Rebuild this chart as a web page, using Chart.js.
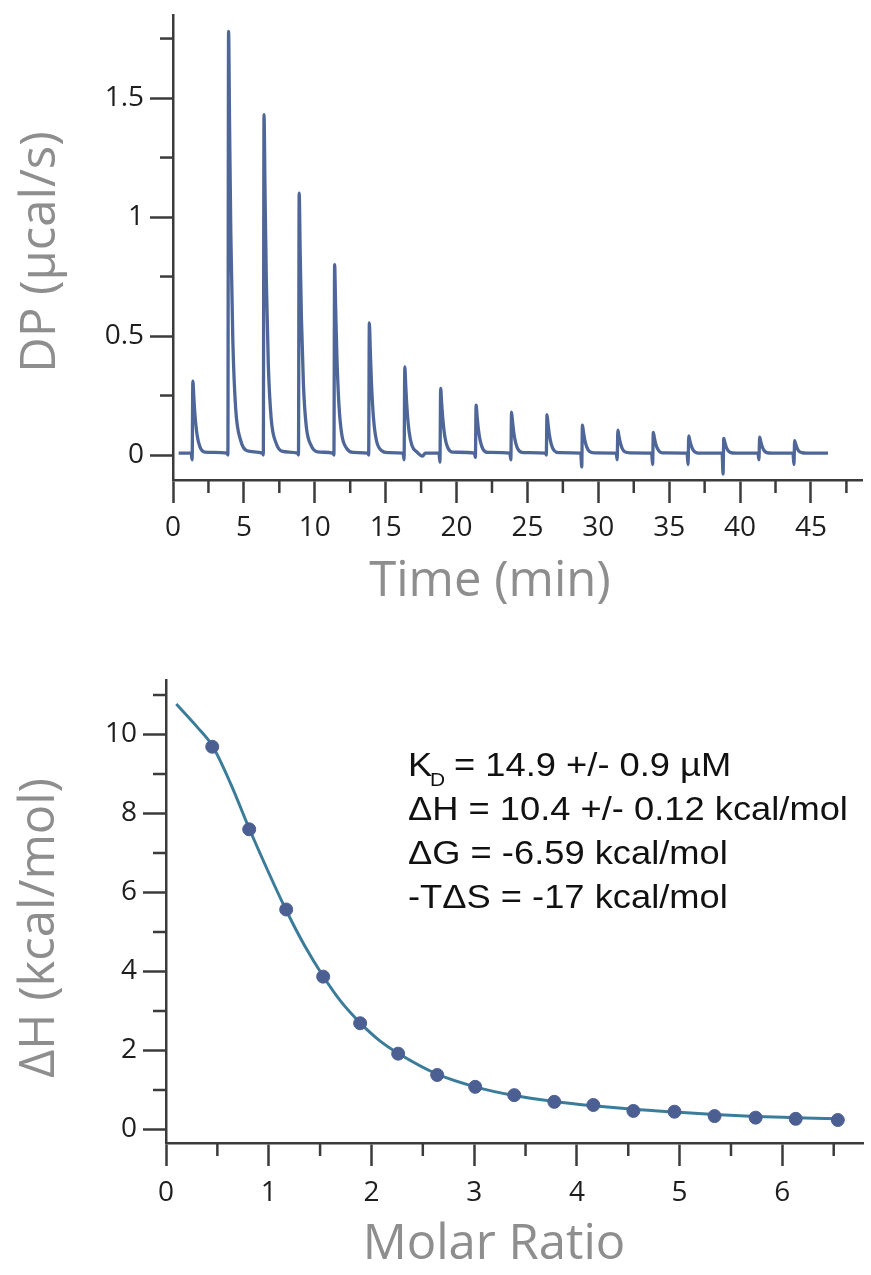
<!DOCTYPE html>
<html>
<head>
<meta charset="utf-8">
<script src="https://cdn.jsdelivr.net/npm/chart.js@4.4.1/dist/chart.umd.min.js"></script>
<style>
  html, body { margin: 0; padding: 0; background: #ffffff; }
  #wrap { position: relative; width: 871px; height: 1275px; overflow: hidden; }
  #c1 { position: absolute; left: 0; top: 0; }
  #c2 { position: absolute; left: 0; top: 625px; }
</style>
</head>
<body>
<div id="wrap">
  <canvas id="c1" width="871" height="625"></canvas>
  <canvas id="c2" width="871" height="650"></canvas>
</div>
<script>
// ---------------- DATA: top panel (raw thermogram) ----------------
const dpTime = [
  0.40, 1.28, 1.35, 1.40, 1.47, 1.56, 1.70, 1.90, 2.25,
  3.80, 3.87, 3.92, 3.99, 4.08, 4.22, 4.42, 4.77, 5.22,
  6.30, 6.37, 6.42, 6.49, 6.58, 6.72, 6.92, 7.27, 7.72,
  8.78, 8.85, 8.90, 8.97, 9.06, 9.20, 9.40, 9.75, 10.20,
  11.28, 11.35, 11.40, 11.47, 11.56, 11.70, 11.90, 12.25, 12.70,
  13.73, 13.80, 13.85, 13.92, 14.01, 14.15, 14.35, 14.70, 15.15,
  16.23, 16.30, 16.35, 16.42, 16.51, 16.65, 16.85, 17.20, 17.60, 17.80,
  18.76, 18.83, 18.88, 18.95, 19.04, 19.18, 19.38, 19.73,
  21.26, 21.33, 21.38, 21.45, 21.54, 21.68, 21.88, 22.23,
  23.76, 23.83, 23.88, 23.95, 24.04, 24.18, 24.38, 24.73,
  26.26, 26.33, 26.38, 26.45, 26.54, 26.68, 26.88, 27.23,
  28.76, 28.83, 28.88, 28.95, 29.04, 29.18, 29.38, 29.73,
  31.26, 31.33, 31.38, 31.45, 31.54, 31.68, 31.88, 32.23,
  33.76, 33.83, 33.88, 33.95, 34.04, 34.18, 34.38, 34.73,
  36.26, 36.33, 36.38, 36.45, 36.54, 36.68, 36.88, 37.23,
  38.73, 38.80, 38.85, 38.92, 39.01, 39.15, 39.35, 39.70,
  41.26, 41.33, 41.38, 41.45, 41.54, 41.68, 41.88, 42.23,
  43.73, 43.80, 43.85, 43.92, 44.01, 44.15, 44.35, 44.70,
  46.20
];
const dpPower = [
  0.008, 0.008, -0.020, 0.310, 0.242, 0.161, 0.084, 0.034, 0.012,
  0.008, 0.000, 1.780, 1.388, 0.926, 0.481, 0.196, 0.062, 0.018,
  0.008, 0.000, 1.430, 1.115, 0.744, 0.386, 0.157, 0.050, 0.015,
  0.008, 0.000, 1.100, 0.858, 0.572, 0.297, 0.121, 0.039, 0.013,
  0.008, 0.000, 0.800, 0.624, 0.416, 0.216, 0.088, 0.028, 0.011,
  0.008, 0.000, 0.555, 0.433, 0.289, 0.150, 0.061, 0.019, 0.010,
  0.008, -0.020, 0.370, 0.289, 0.192, 0.100, 0.041, 0.013, -0.005, 0.008,
  0.008, -0.030, 0.280, 0.218, 0.146, 0.076, 0.031, 0.012,
  0.008, -0.010, 0.210, 0.164, 0.109, 0.057, 0.023, 0.011,
  0.008, -0.020, 0.180, 0.140, 0.094, 0.049, 0.020, 0.010,
  0.008, 0.000, 0.170, 0.133, 0.088, 0.046, 0.019, 0.010,
  0.008, -0.050, 0.125, 0.098, 0.065, 0.034, 0.015, 0.009,
  0.008, -0.020, 0.105, 0.082, 0.055, 0.028, 0.013, 0.009,
  0.008, -0.040, 0.095, 0.074, 0.049, 0.026, 0.012, 0.009,
  0.008, -0.040, 0.080, 0.062, 0.042, 0.022, 0.011, 0.008,
  0.008, -0.080, 0.070, 0.055, 0.036, 0.019, 0.010, 0.008,
  0.008, -0.020, 0.075, 0.059, 0.039, 0.020, 0.010, 0.008,
  0.008, -0.040, 0.060, 0.047, 0.031, 0.016, 0.010, 0.008,
  0.008
];
const topXTicks = [0, 5, 10, 15, 20, 25, 30, 35, 40, 45];
const topXMinor = [2.5, 7.5, 12.5, 17.5, 22.5, 27.5, 32.5, 37.5, 42.5, 47.5];
const topYTicks = [0, 0.5, 1, 1.5];
const topYMinor = [0.25, 0.75, 1.25, 1.75];
const topXTitle = 'Time (min)';
const topYTitle = 'DP (µcal/s)';

// ---------------- DATA: bottom panel (binding isotherm) ----------------
const molarRatio = [0.45, 0.81, 1.17, 1.53, 1.89, 2.26, 2.64, 3.01, 3.39, 3.78, 4.16, 4.55, 4.95, 5.34, 5.74, 6.13, 6.54];
const deltaH     = [9.69, 7.60, 5.57, 3.87, 2.69, 1.92, 1.38, 1.08, 0.87, 0.70, 0.62, 0.47, 0.45, 0.34, 0.30, 0.27, 0.24];
const fitX = [0.10, 0.30, 0.45, 0.63, 0.81, 1.00, 1.17, 1.35, 1.53, 1.70, 1.89, 2.07, 2.26, 2.64, 3.01, 3.39, 3.78, 4.16, 4.55, 4.95, 5.34, 5.74, 6.13, 6.54];
const fitY = [10.77, 10.20, 9.72, 8.75, 7.62, 6.50, 5.55, 4.65, 3.88, 3.25, 2.70, 2.27, 1.93, 1.40, 1.08, 0.86, 0.71, 0.60, 0.51, 0.44, 0.38, 0.33, 0.30, 0.27];
const botXTicks = [0, 1, 2, 3, 4, 5, 6];
const botXMinor = [0.5, 1.5, 2.5, 3.5, 4.5, 5.5, 6.5];
const botYTicks = [0, 2, 4, 6, 8, 10];
const botYMinor = [1, 3, 5, 7, 9, 11];
const botXTitle = 'Molar Ratio';
const botYTitle = 'ΔH (kcal/mol)';
const statsLines = [
  ['K', 'D', ' = 14.9 +/- 0.9 µM'],
  ['ΔH = 10.4 +/- 0.12 kcal/mol'],
  ['ΔG = -6.59 kcal/mol'],
  ['-TΔS = -17 kcal/mol']
];

// ---------------- styling ----------------
const AXIS_COLOR = '#3b3b3b';
const TICK_FONT = { family: "'Open Sans', 'Noto Sans', sans-serif", size: 28 };
const TITLE_FONT = "49px 'Open Sans', 'Noto Sans', sans-serif";
const TITLE_COLOR = '#8e8e8e';

// minor tick marks, placed through the chart's own scales
const minorTicksPlugin = {
  id: 'minorTicks',
  afterDraw(chart, args, opts) {
    const ctx = chart.ctx;
    const xs = chart.scales.x, ys = chart.scales.y;
    ctx.save();
    ctx.strokeStyle = AXIS_COLOR;
    ctx.lineWidth = 2.5;
    ctx.lineCap = 'butt';
    (opts.x || []).forEach(v => {
      const px = xs.getPixelForValue(v);
      ctx.beginPath(); ctx.moveTo(px, xs.top); ctx.lineTo(px, xs.top + opts.len); ctx.stroke();
    });
    (opts.y || []).forEach(v => {
      const py = ys.getPixelForValue(v);
      ctx.beginPath(); ctx.moveTo(ys.right, py); ctx.lineTo(ys.right - opts.len, py); ctx.stroke();
    });
    ctx.restore();
  }
};

// axis titles
const axisTitlesPlugin = {
  id: 'axisTitles',
  afterDraw(chart, args, opts) {
    const ctx = chart.ctx;
    ctx.save();
    ctx.font = TITLE_FONT;
    ctx.fillStyle = TITLE_COLOR;
    ctx.textAlign = 'center';
    ctx.textBaseline = 'middle';
    ctx.fillText(opts.xText, opts.xCx, opts.xCy);
    ctx.translate(opts.yCx, opts.yCy);
    ctx.rotate(-Math.PI / 2);
    ctx.fillText(opts.yText, 0, 0);
    ctx.restore();
  }
};

// fit-parameter text block
const statsPlugin = {
  id: 'statsText',
  afterDraw(chart, args, opts) {
    if (!opts.lines) return;
    const ctx = chart.ctx;
    ctx.save();
    ctx.fillStyle = '#111111';
    ctx.textBaseline = 'alphabetic';
    ctx.textAlign = 'left';
    const sx = 1.1;
    const big = "33px 'Liberation Sans', Arial, sans-serif";
    const small = "19px 'Liberation Sans', Arial, sans-serif";
    opts.lines.forEach((parts, i) => {
      const baseY = opts.y0 + i * opts.dy;
      ctx.save();
      ctx.translate(opts.x0, baseY);
      ctx.scale(sx, 1);
      let x = 0;
      if (parts.length === 3) {
        ctx.font = big;
        ctx.fillText(parts[0], x, 0);
        x += ctx.measureText(parts[0]).width;
        ctx.font = small;
        ctx.fillText(parts[1], x - 2, 10);
        x += ctx.measureText(parts[1]).width - 3;
        ctx.font = big;
        ctx.fillText(parts[2], x, 0);
      } else {
        ctx.font = big;
        ctx.fillText(parts[0], x, 0);
      }
      ctx.restore();
    });
    ctx.restore();
  }
};

function axisCommon(tickVals, pos) {
  return {
    type: 'linear',
    position: pos,
    afterBuildTicks(s) { s.ticks = tickVals.map(v => ({ value: v })); },
    ticks: {
      color: '#1e1e1e',
      font: TICK_FONT,
      padding: 6,
      autoSkip: false,
      maxRotation: 0,
      callback: v => String(v)
    },
    grid: {
      display: true,
      drawOnChartArea: false,
      drawTicks: true,
      tickLength: 23,
      tickWidth: 2.5,
      tickColor: AXIS_COLOR
    },
    border: { display: true, color: AXIS_COLOR, width: 2.5 }
  };
}

// ---------------- top chart ----------------
const topX = Object.assign(axisCommon(topXTicks, 'bottom'), {
  min: 0, max: 48.6,
  afterFit(s) { s.height = 625 - 480; s.paddingLeft = 0; s.paddingRight = 0; s.paddingTop = 0; s.paddingBottom = 0; }
});
topX.ticks.padding = 8;
const topY = Object.assign(axisCommon(topYTicks, 'left'), {
  min: -0.105, max: 1.849,
  afterFit(s) { s.width = 173; s.paddingLeft = 0; s.paddingRight = 0; s.paddingTop = 0; s.paddingBottom = 0; }
});

new Chart(document.getElementById('c1'), {
  type: 'line',
  data: {
    datasets: [{
      label: 'DP',
      data: dpTime.map((t, i) => ({ x: t, y: dpPower[i] })),
      borderColor: '#4f6798',
      borderWidth: 3.3,
      pointRadius: 0,
      cubicInterpolationMode: 'monotone',
      borderJoinStyle: 'round',
      fill: false
    }]
  },
  options: {
    responsive: false,
    animation: false,
    devicePixelRatio: 1,
    layout: { padding: { left: 0, right: 9, top: 15, bottom: 0 } },
    scales: { x: topX, y: topY },
    plugins: {
      legend: { display: false },
      tooltip: { enabled: false },
      minorTicks: { x: topXMinor, y: topYMinor, len: 13 },
      axisTitles: { xText: topXTitle, xCx: 490, xCy: 582, yText: topYTitle, yCx: 41, yCy: 252 }
    }
  },
  plugins: [minorTicksPlugin, axisTitlesPlugin]
});

// ---------------- bottom chart ----------------
const botX = Object.assign(axisCommon(botXTicks, 'bottom'), {
  min: 0, max: 6.79,
  afterFit(s) { s.height = 650 - 518; s.paddingLeft = 0; s.paddingRight = 0; s.paddingTop = 0; s.paddingBottom = 0; }
});
botX.ticks.padding = 10;
const botY = Object.assign(axisCommon(botYTicks, 'left'), {
  min: -0.342, max: 11.38,
  afterFit(s) { s.width = 166; s.paddingLeft = 0; s.paddingRight = 0; s.paddingTop = 0; s.paddingBottom = 0; }
});

new Chart(document.getElementById('c2'), {
  type: 'line',
  data: {
    datasets: [
      {
        label: 'Fit',
        data: fitX.map((x, i) => ({ x: x, y: fitY[i] })),
        borderColor: '#3c7c9b',
        borderWidth: 3,
        pointRadius: 0,
        cubicInterpolationMode: 'monotone',
        fill: false,
        order: 2
      },
      {
        label: 'Integrated heats',
        data: molarRatio.map((x, i) => ({ x: x, y: deltaH[i] })),
        showLine: false,
        pointRadius: 6.5,
        pointBackgroundColor: '#4c5f92',
        pointBorderColor: '#4c5f92',
        pointBorderWidth: 1,
        order: 1
      }
    ]
  },
  options: {
    responsive: false,
    animation: false,
    devicePixelRatio: 1,
    layout: { padding: { left: 0, right: 0, top: 55, bottom: 0 } },
    scales: { x: botX, y: botY },
    plugins: {
      legend: { display: false },
      tooltip: { enabled: false },
      minorTicks: { x: botXMinor, y: botYMinor, len: 13 },
      axisTitles: { xText: botXTitle, xCx: 494, xCy: 620, yText: botYTitle, yCx: 40, yCy: 303 },
      statsText: { lines: statsLines, x0: 408, y0: 151, dy: 44 }
    }
  },
  plugins: [minorTicksPlugin, axisTitlesPlugin, statsPlugin]
});
</script>
</body>
</html>
